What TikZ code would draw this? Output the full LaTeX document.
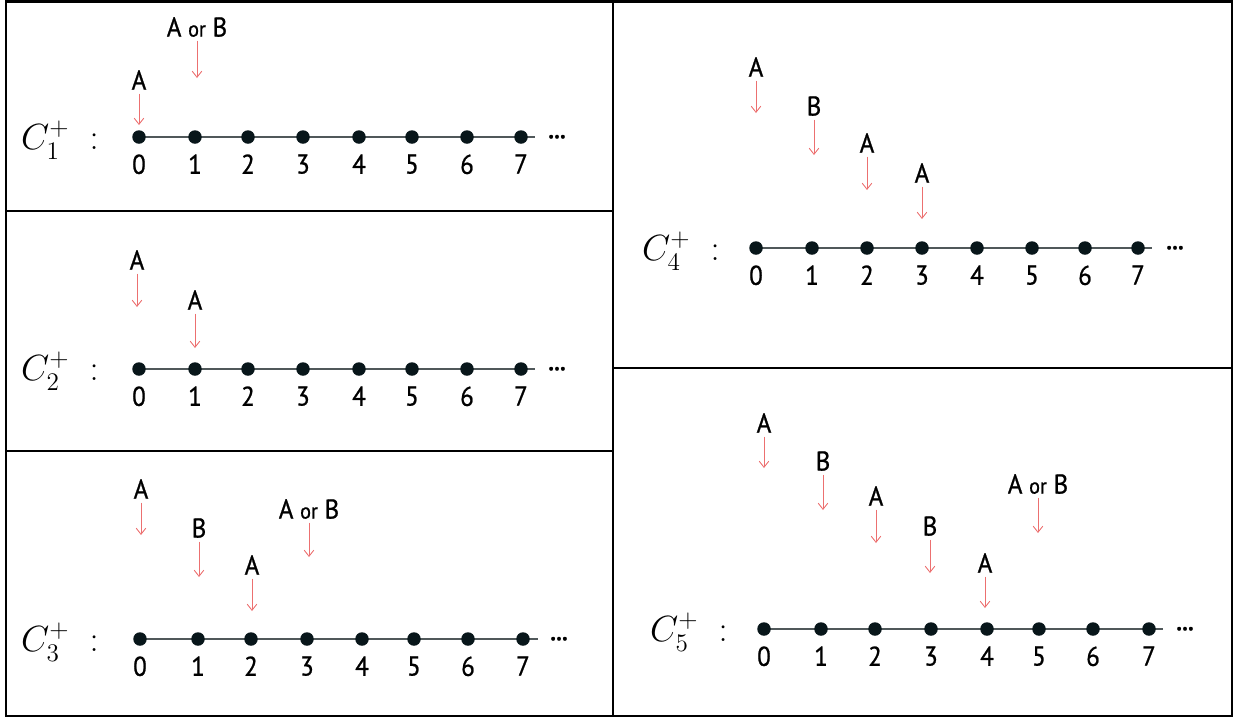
\documentclass[tikz,border=0pt]{standalone}
\usepackage{fontspec}
\newfontfamily\labelfont{PT Sans}[FakeBold = 0.8, FakeStretch = 0.92]
\usepackage{amsmath}
\usetikzlibrary{arrows.meta}
\usetikzlibrary{positioning}
\definecolor{dropred}{RGB}{236,112,112}
\definecolor{siteblack}{RGB}{8,22,26}
\definecolor{axisgray}{RGB}{80,88,90}
\tikzset{
site/.style = { circle, draw = none, fill = siteblack, minimum size = 0.27cm, inner sep = 0pt },
site num/.style = { font = \labelfont\fontsize{15.5}{17}\selectfont, inner sep = 0pt },
chip/.style = { font = \labelfont\fontsize{15.5}{17}\selectfont, inner sep = 2pt },
drop/.style = { draw = dropred, line width = 0.5pt, -{Straight Barb[length = 3.5pt, width = 5.5pt, line width = 0.5pt]} },
axis/.style = { draw = axisgray, line width = 0.8pt },
frame/.style = { draw = black, line width = 1.2pt },
chain label/.style = { font = \fontsize{20}{24}\selectfont, inner sep = 0pt },
more/.style = { font = \labelfont\bfseries\fontsize{14}{16}\selectfont, inner sep = 0pt, anchor = south },
}
\newcommand{\orword}{{\fontsize{12.5}{14}\selectfont or}}

\begin{document}
\begin{tikzpicture}[x = 0.02cm, y = -0.02cm]
    \useasboundingbox (0, 0) rectangle (1235, 718);
    % frames
    \draw[frame] (6, 1.5) rectangle (1232, 716);
    \draw[frame] (613, 1.5) -- (613, 716);
    \draw[frame] (6, 211) -- (613, 211);
    \draw[frame] (6, 451) -- (613, 451);
    \draw[frame] (613, 368) -- (1232, 368);

    % C1
    \node[chain label] (c1) at (60, 140) {$C_1^+\;:$};
    \coordinate (s1) at (139, 137);
    \coordinate (e1) at (535, 137);
    \draw[axis] (s1) -- (e1);
    \foreach \x [count = \i from 0] in {139, 195, 248, 303, 359, 412, 467, 521} {
        \node[site] (n1-\i) at (\x, 137) {};
        \node[site num, below = 0.2cm of n1-\i] {\i};
    }
    \node[more] (m1) at (557, 139) {...};
    \node[chip] (a1-0) at (139, 80) {A};
    \coordinate (a1-0e) at (139, 125);
    \draw[drop] (a1-0) -- (a1-0e);
    \node[chip] (a1-1) at (197, 27) {A \orword{} B};
    \coordinate (a1-1e) at (197, 78);
    \draw[drop] (a1-1) -- (a1-1e);

    % C2
    \node[chain label] (c2) at (60, 371) {$C_2^+\;:$};
    \coordinate (s2) at (139, 369);
    \coordinate (e2) at (535, 369);
    \draw[axis] (s2) -- (e2);
    \foreach \x [count = \i from 0] in {139, 195, 248, 303, 359, 412, 467, 521} {
        \node[site] (n2-\i) at (\x, 369) {};
        \node[site num, below = 0.2cm of n2-\i] {\i};
    }
    \node[more] (m2) at (557, 371) {...};
    \node[chip] (a2-0) at (137, 260) {A};
    \coordinate (a2-0e) at (137, 307);
    \draw[drop] (a2-0) -- (a2-0e);
    \node[chip] (a2-1) at (195, 300) {A};
    \coordinate (a2-1e) at (195, 348);
    \draw[drop] (a2-1) -- (a2-1e);

    % C3
    \node[chain label] (c3) at (60, 642) {$C_3^+\;:$};
    \coordinate (s3) at (140, 639);
    \coordinate (e3) at (538, 639);
    \draw[axis] (s3) -- (e3);
    \foreach \x [count = \i from 0] in {140, 198, 251, 307, 362, 414, 468, 523} {
        \node[site] (n3-\i) at (\x, 639) {};
        \node[site num, below = 0.2cm of n3-\i] {\i};
    }
    \node[more] (m3) at (559, 641) {...};
    \node[chip] (a3-0) at (141, 489) {A};
    \coordinate (a3-0e) at (141, 535);
    \draw[drop] (a3-0) -- (a3-0e);
    \node[chip] (a3-1) at (199, 528) {B};
    \coordinate (a3-1e) at (199, 577);
    \draw[drop] (a3-1) -- (a3-1e);
    \node[chip] (a3-2) at (252, 565) {A};
    \coordinate (a3-2e) at (252, 611);
    \draw[drop] (a3-2) -- (a3-2e);
    \node[chip] (a3-3) at (309, 509) {A \orword{} B};
    \coordinate (a3-3e) at (309, 557);
    \draw[drop] (a3-3) -- (a3-3e);

    % C4
    \node[chain label] (c4) at (681, 251) {$C_4^+\;:$};
    \coordinate (s4) at (756, 248);
    \coordinate (e4) at (1152, 248);
    \draw[axis] (s4) -- (e4);
    \foreach \x [count = \i from 0] in {756, 812, 867, 922, 977, 1032, 1085, 1138} {
        \node[site] (n4-\i) at (\x, 248) {};
        \node[site num, below = 0.2cm of n4-\i] {\i};
    }
    \node[more] (m4) at (1175, 250) {...};
    \node[chip] (a4-0) at (756, 67) {A};
    \coordinate (a4-0e) at (756, 113);
    \draw[drop] (a4-0) -- (a4-0e);
    \node[chip] (a4-1) at (814, 106) {B};
    \coordinate (a4-1e) at (814, 155);
    \draw[drop] (a4-1) -- (a4-1e);
    \node[chip] (a4-2) at (867, 143) {A};
    \coordinate (a4-2e) at (867, 190);
    \draw[drop] (a4-2) -- (a4-2e);
    \node[chip] (a4-3) at (922, 173) {A};
    \coordinate (a4-3e) at (922, 219);
    \draw[drop] (a4-3) -- (a4-3e);

    % C5
    \node[chain label] (c5) at (689, 632) {$C_5^+\;:$};
    \coordinate (s5) at (764, 629);
    \coordinate (e5) at (1163, 629);
    \draw[axis] (s5) -- (e5);
    \foreach \x [count = \i from 0] in {764, 821, 875, 931, 987, 1039, 1093, 1149} {
        \node[site] (n5-\i) at (\x, 629) {};
        \node[site num, below = 0.2cm of n5-\i] {\i};
    }
    \node[more] (m5) at (1185, 631) {...};
    \node[chip] (a5-0) at (764, 423) {A};
    \coordinate (a5-0e) at (764, 468);
    \draw[drop] (a5-0) -- (a5-0e);
    \node[chip] (a5-1) at (823, 461) {B};
    \coordinate (a5-1e) at (823, 510);
    \draw[drop] (a5-1) -- (a5-1e);
    \node[chip] (a5-2) at (876, 496) {A};
    \coordinate (a5-2e) at (876, 543);
    \draw[drop] (a5-2) -- (a5-2e);
    \node[chip] (a5-3) at (930, 526) {B};
    \coordinate (a5-3e) at (930, 573);
    \draw[drop] (a5-3) -- (a5-3e);
    \node[chip] (a5-4) at (985, 563) {A};
    \coordinate (a5-4e) at (985, 608);
    \draw[drop] (a5-4) -- (a5-4e);
    \node[chip] (a5-5) at (1038, 484) {A \orword{} B};
    \coordinate (a5-5e) at (1038, 533);
    \draw[drop] (a5-5) -- (a5-5e);
\end{tikzpicture}
\end{document}
